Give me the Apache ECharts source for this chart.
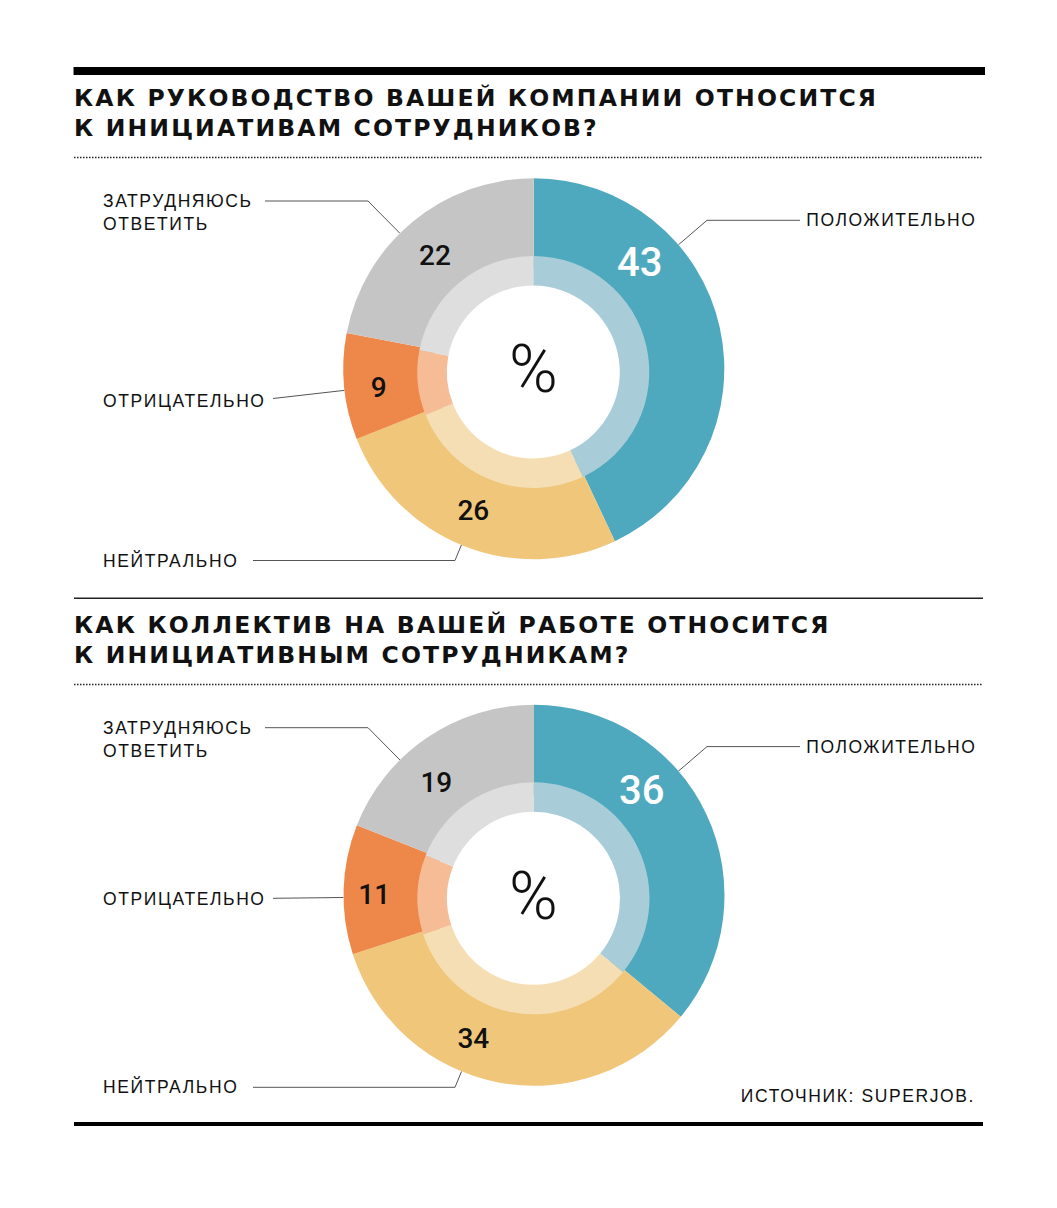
<!DOCTYPE html>
<html>
<head>
<meta charset="utf-8">
<script src="https://cdn.jsdelivr.net/npm/echarts@6/dist/echarts.min.js"></script>
<style>
html,body{margin:0;padding:0;background:#fff}
#chart{width:1057px;height:1208px}
#chart text[style*="23.5px"]{letter-spacing:2.15px}
#chart text[style*="17.5px"]{letter-spacing:1.6px}
</style>
</head>
<body>
<div id="chart"></div>
<script>
// ---------- data ----------
const categories = ['ПОЛОЖИТЕЛЬНО', 'НЕЙТРАЛЬНО', 'ОТРИЦАТЕЛЬНО', 'ЗАТРУДНЯЮСЬ\nОТВЕТИТЬ'];
const managementValues = [43, 26, 9, 22];
const colleaguesValues = [36, 34, 11, 19];
const titleManagement = 'КАК РУКОВОДСТВО ВАШЕЙ КОМПАНИИ ОТНОСИТСЯ\nК ИНИЦИАТИВАМ СОТРУДНИКОВ?';
const titleColleagues = 'КАК КОЛЛЕКТИВ НА ВАШЕЙ РАБОТЕ ОТНОСИТСЯ\nК ИНИЦИАТИВНЫМ СОТРУДНИКАМ?';
const unitLabel = '%';
const sourceText = 'ИСТОЧНИК: SUPERJOB.';

// ---------- styles ----------
const mainColors = ['#4EA9BF', '#EFC67A', '#EE884A', '#C5C5C5'];
const lightColors = ['#A8CDD8', '#F5DEB3', '#F6BC95', '#DEDEDE'];
const valueColors = ['#ffffff', '#111111', '#111111', '#111111'];
const valueFontSizes = [40, 28, 28, 28];
const sansFont = 'Liberation Sans, Arial, sans-serif';
const titleFont = 'DejaVu Sans, Liberation Sans, Arial, sans-serif';

// ---------- layout ----------
const outerRadius = 190.5;
const outerCenters = [[533.8, 368.8], [534, 895.3]];
const innerCenters = [[533.3, 372], [533.5, 898.3]];
const unitCenters = [[533.3, 369.7], [533.3, 896.2]];
const titleTops = [83, 609.5];
const nameAlign = ['right', 'left', 'left', 'left'];
const nameX = [976.5, 103, 103, 103];
const nameBoxWidth = [176.5, 150, 170, 162];
const nameLineLength = [93, 202, 0, 103];
const nameY = [[220.3, 560.8, 400.5, 212.5], [746.5, 1086.8, 899, 739.3]];
const nameLineY = [[220.3, 560.5, 398.5, 201], [746.6, 1087.3, 898.3, 727.7]];
const valueOffsets = [
  [[105.9, -106], [-60.5, 142], [-155.1, 18.7], [-98.8, -113.5]],
  [[107.7, -104.5], [-60.7, 143], [-159.8, -0.6], [-97.7, -113.3]]
];

function outerSeries(values, k) {
  return {
    type: 'pie', z: 2, silent: true, clockwise: true, startAngle: 90,
    center: outerCenters[k], radius: [100, outerRadius],
    avoidLabelOverlap: false,
    data: values.map((v, i) => ({
      value: v, name: categories[i],
      itemStyle: { color: mainColors[i] },
      label: { width: nameBoxWidth[i] }
    })),
    label: {
      show: true, position: 'outside', formatter: '{b}',
      fontFamily: sansFont, fontSize: 17.5, color: '#111', lineHeight: 23, overflow: 'none'
    },
    labelLine: { show: true, length: 0, length2: 0, smooth: false, lineStyle: { color: '#555', width: 1 } },
    labelLayout: function (p) {
      const i = p.dataIndex;
      const c = outerCenters[k];
      const left = nameAlign[i] === 'left';
      const ax = left ? nameX[i] + nameBoxWidth[i] : nameX[i] - nameBoxWidth[i];
      const ay = nameLineY[k][i];
      const ex = left ? ax + nameLineLength[i] : ax - nameLineLength[i];
      const dx = ex - c[0], dy = ay - c[1], d = Math.hypot(dx, dy);
      const sx = c[0] + dx / d * outerRadius, sy = c[1] + dy / d * outerRadius;
      return {
        x: nameX[i], y: nameY[k][i], align: nameAlign[i], verticalAlign: 'middle',
        labelLinePoints: [[sx, sy], [ex, ay], [ax, ay]]
      };
    }
  };
}

function innerSeries(values, k) {
  return {
    type: 'pie', z: 3, silent: true, clockwise: true, startAngle: 90,
    center: innerCenters[k], radius: [86.5, 116],
    label: { show: false }, labelLine: { show: false },
    data: values.map((v, i) => ({ value: v, name: categories[i], itemStyle: { color: lightColors[i] } }))
  };
}

function valueSeries(values, k) {
  return {
    type: 'pie', z: 4, silent: true, clockwise: true, startAngle: 90,
    center: outerCenters[k], radius: [116, outerRadius],
    avoidLabelOverlap: false,
    data: values.map((v, i) => ({
      value: v, name: categories[i],
      itemStyle: { color: 'rgba(0,0,0,0)' },
      label: { color: valueColors[i], fontSize: valueFontSizes[i] }
    })),
    label: { show: true, position: 'inside', formatter: '{c}', fontFamily: 'Roboto, ' + sansFont, fontWeight: 500 },
    labelLine: { show: false },
    labelLayout: function (p) {
      const o = valueOffsets[k][p.dataIndex];
      return { x: outerCenters[k][0] + o[0], y: outerCenters[k][1] + o[1], align: 'center', verticalAlign: 'middle' };
    }
  };
}

const titleStyle = (text) => ({ text: text, fontFamily: titleFont, fontSize: 23.5, fontWeight: 'bold', fill: '#111', lineHeight: 30, align: 'left', verticalAlign: 'top' });
const unitStyle = { text: unitLabel, fontFamily: 'Roboto, ' + sansFont, fontSize: 66, fontWeight: 300, fill: '#111', align: 'center', verticalAlign: 'middle' };

const chart = echarts.init(document.getElementById('chart'), null, { renderer: 'svg', width: 1057, height: 1208 });
chart.setOption({
  animation: false,
  backgroundColor: '#ffffff',
  series: [
    outerSeries(managementValues, 0), innerSeries(managementValues, 0), valueSeries(managementValues, 0),
    outerSeries(colleaguesValues, 1), innerSeries(colleaguesValues, 1), valueSeries(colleaguesValues, 1)
  ],
  graphic: [
    { type: 'rect', silent: true, shape: { x: 73.5, y: 67, width: 911.5, height: 8 }, style: { fill: '#000' } },
    { type: 'text', silent: true, x: 74, y: titleTops[0], style: titleStyle(titleManagement) },
    { type: 'line', silent: true, shape: { x1: 74, y1: 157.5, x2: 983, y2: 157.5 }, style: { stroke: '#222', lineWidth: 1.5, lineDash: [1.5, 1.5] } },
    { type: 'text', silent: true, x: unitCenters[0][0], y: unitCenters[0][1], style: unitStyle },
    { type: 'rect', silent: true, shape: { x: 74, y: 597.5, width: 909, height: 1.5 }, style: { fill: '#222' } },
    { type: 'text', silent: true, x: 74, y: titleTops[1], style: titleStyle(titleColleagues) },
    { type: 'line', silent: true, shape: { x1: 74, y1: 684.5, x2: 983, y2: 684.5 }, style: { stroke: '#222', lineWidth: 1.5, lineDash: [1.5, 1.5] } },
    { type: 'text', silent: true, x: unitCenters[1][0], y: unitCenters[1][1], style: unitStyle },
    { type: 'text', silent: true, x: 975, y: 1096.3, style: { text: sourceText, fontFamily: sansFont, fontSize: 17.5, fill: '#111', align: 'right', verticalAlign: 'middle' } },
    { type: 'rect', silent: true, shape: { x: 74, y: 1122, width: 909, height: 4 }, style: { fill: '#000' } }
  ]
});
</script>
</body>
</html>
